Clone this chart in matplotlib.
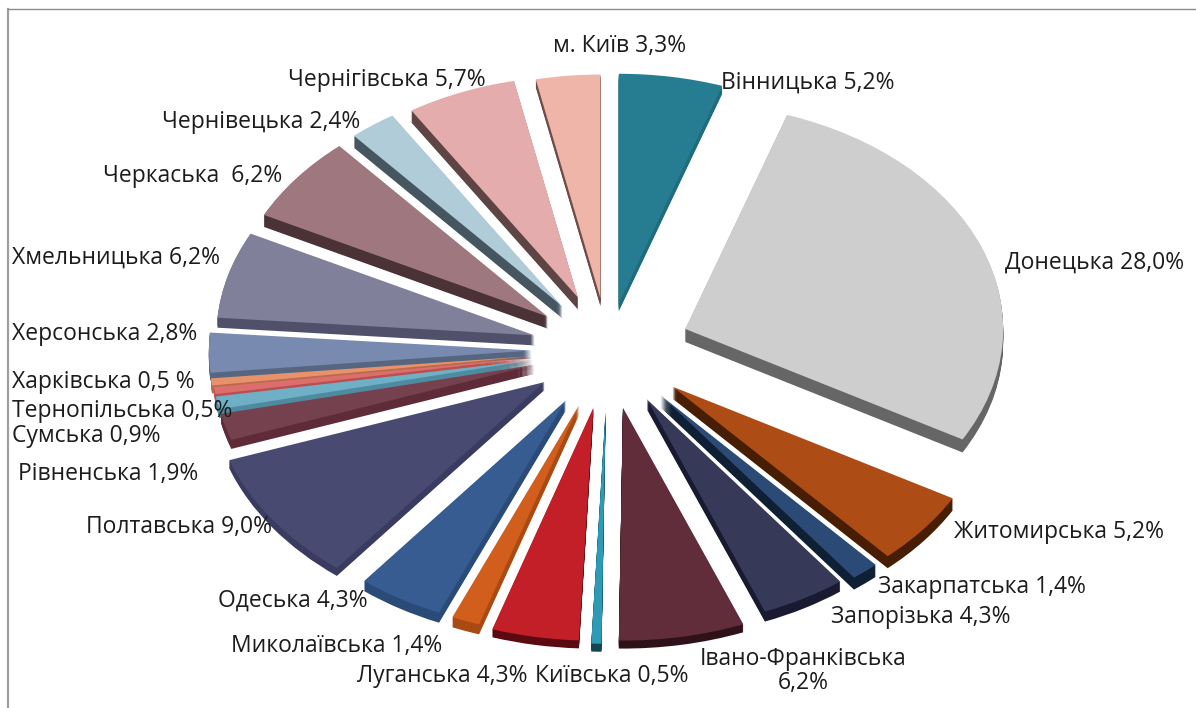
import numpy as np
import matplotlib
matplotlib.use("Agg")
import matplotlib.pyplot as plt

plt.rcParams['font.family'] = ['Open Sans', 'DejaVu Sans']

values = [5.2, 28.0, 5.2, 1.4, 4.3, 6.2, 0.5, 4.3, 1.4, 4.3, 9.0,
          1.9, 0.9, 0.5, 0.5, 2.8, 6.2, 6.2, 2.4, 5.7, 3.3]

labels = ['Вінницька 5,2%', 'Донецька 28,0%', 'Житомирська 5,2%', 'Закарпатська 1,4%',
          'Запорізька 4,3%', 'Івано-Франківська\n6,2%', 'Київська 0,5%', 'Луганська 4,3%',
          'Миколаївська 1,4%', 'Одеська 4,3%', 'Полтавська 9,0%', 'Рівненська 1,9%',
          'Сумська 0,9%', 'Тернопільська 0,5%', 'Харківська 0,5 %', 'Херсонська 2,8%',
          'Хмельницька 6,2%', 'Черкаська  6,2%', 'Чернівецька 2,4%', 'Чернігівська 5,7%',
          'м. Київ 3,3%']

top_colors = ['#267d91', '#cecece', '#ad4c14', '#2b4a75', '#373959', '#612d3a', '#2d9bb5',
              '#c21f28', '#d25e1e', '#375c91', '#484a72', '#76414e', '#6fb0c6', '#dd6e6e',
              '#e8926c', '#788ab0', '#80809a', '#9e787e', '#b0ccd9', '#e4acad', '#eeb5a8']
side_colors = ['#1f6c7e', '#666666', '#471d04', '#0f2035', '#171a30', '#2f1219', '#134650',
               '#5a0a10', '#a94a12', '#2a4a78', '#3a3b60', '#5f2b39', '#4f8ba0', '#b85050',
               '#b86a4a', '#566680', '#50506a', '#4a3236', '#465660', '#5e4444', '#6e4e48']

explode = [0.21, 0.26, 0.26, 0.26, 0.25, 0.26, 0.27, 0.26, 0.26, 0.26, 0.245,
           0.24, 0.24, 0.24, 0.24, 0.24, 0.24, 0.24, 0.24, 0.25, 0.23]
depths = [8, 13, 12, 12, 10, 8, 8, 8, 10, 10, 8, 9, 9, 8, 8, 8, 10, 12, 12, 12, 8]
# the reference has perspective, front slices come out a bit longer than back ones
radii = [1.015, 1.0, 1.01, 1.01, 1.01, 1.03, 1.03, 1.03, 1.02, 1.02, 1.05,
         1.01, 1.01, 1.01, 1.015, 1.015, 1.0, 1.0, 1.0, 0.98, 0.99]

# label anchors in picture pixels (left edge, vertical centre)
label_x = [721, 1005, 954, 878, 831, 803, 535, 357, 231, 218, 86, 18, 12, 12, 12, 12, 12, 103, 162, 288, 553]
label_y = [83, 263, 532, 587, 617, 671, 676, 676, 646, 601, 527, 474, 436, 411, 382, 334, 258, 176, 122, 80, 46]

W, H = 1196, 708
cx, cy = 608, 350
rx, ry = 318, 226

fig = plt.figure(figsize=(W / 100, H / 100), dpi=100)
ax = fig.add_axes([8 / W, 0, (W - 8) / W, (H - 9) / H])

# draw back wedges first so the front ones sit on top
mids = 90 - (np.cumsum(values) - np.array(values) / 2) / sum(values) * 360
order = np.argsort(np.argsort(-np.sin(np.radians(mids))))

for k in range(max(depths), 0, -1):
    wedges, _ = ax.pie(values, explode=explode, colors=side_colors, startangle=90,
                       counterclock=False, center=(0, -k / ry),
                       wedgeprops={'linewidth': 0})
    for w, rank, d, r in zip(wedges, order, depths, radii):
        w.set_radius(r)
        w.set_zorder(2 + rank)
        w.set_visible(k <= d)

wedges, _ = ax.pie(values, explode=explode, colors=top_colors, startangle=90,
                   counterclock=False, wedgeprops={'linewidth': 0})
for w, rank, r in zip(wedges, order, radii):
    w.set_radius(r)
    w.set_zorder(2.5 + rank)

ax.set_aspect('auto')
ax.set_xlim((8 - cx) / rx, (W - cx) / rx)
ax.set_ylim((cy - H) / ry, (cy - 9) / ry)
ax.set_xticks([])
ax.set_yticks([])
ax.set_frame_on(True)
ax.spines['right'].set_visible(False)
ax.spines['bottom'].set_visible(False)
ax.spines['top'].set_color('#8c8c8c')
ax.spines['top'].set_linewidth(1.0)
ax.spines['left'].set_color('#a0a0a0')
ax.spines['left'].set_linewidth(1.6)

for name, x, y in zip(labels, label_x, label_y):
    ha = 'center' if '\n' in name else 'left'
    fig.text(x / W, 1 - y / H, name, ha=ha, va='center', fontsize=16.5,
             linespacing=1.05, color='#1c1c1c', zorder=50)

fig.savefig('out.png', dpi=100)
